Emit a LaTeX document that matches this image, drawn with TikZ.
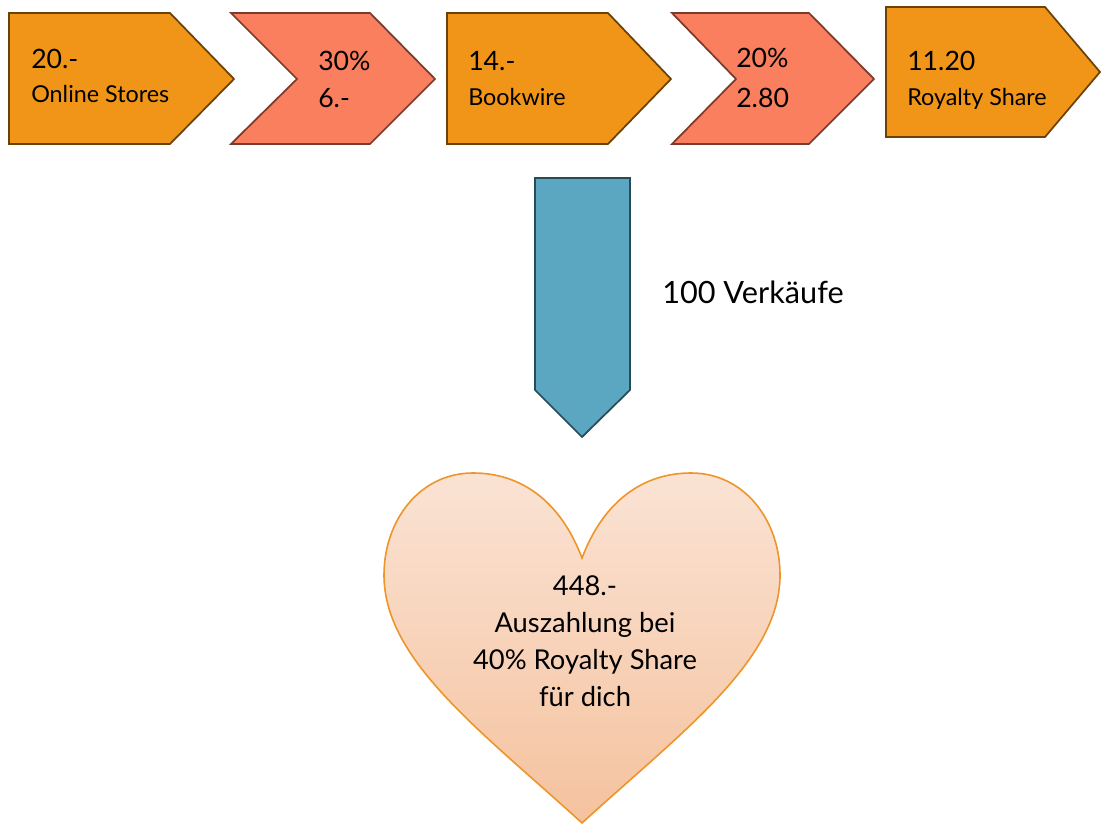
\documentclass[tikz,border=0pt]{standalone}
\usepackage{fontspec}
\setmainfont{Lato}
\definecolor{pentfill}{HTML}{F09517}
\definecolor{pentdraw}{HTML}{6B4205}
\definecolor{chevfill}{HTML}{FA7F5E}
\definecolor{chevdraw}{HTML}{7A3A2C}
\definecolor{arrfill}{HTML}{5BA6C0}
\definecolor{arrdraw}{HTML}{274B57}
\definecolor{heartdraw}{HTML}{EE952A}
\definecolor{hearttop}{HTML}{FAE3D4}
\definecolor{heartbot}{HTML}{F5C29E}
\tikzset{
  pent/.style={fill=pentfill, draw=pentdraw, line width=1.3pt, line join=miter},
  chev/.style={fill=chevfill, draw=chevdraw, line width=1.3pt, line join=miter},
  downarr/.style={fill=arrfill, draw=arrdraw, line width=1.3pt},
  heartshape/.style={draw=heartdraw, line width=1.2pt, top color=hearttop, bottom color=heartbot},
  bigtxt/.style={font=\fontsize{20}{24}\selectfont, anchor=base west, inner sep=0pt},
  smalltxt/.style={font=\fontsize{17.5}{21}\selectfont, anchor=base west, inner sep=0pt},
}
\begin{document}
\begin{tikzpicture}[x=0.75pt,y=-0.75pt]
\useasboundingbox (0,0) rectangle (1102,824);
% top row
\draw[pent] (9,13) -- (170,13) -- (234,79) -- (170,144) -- (9,144) -- cycle;
\draw[chev] (231,13) -- (370,13) -- (435,79) -- (370,144) -- (231,144) -- (297,79) -- cycle;
\draw[pent] (447,13) -- (608,13) -- (671,79) -- (608,144) -- (447,144) -- cycle;
\draw[chev] (672,13) -- (809,13) -- (874,79) -- (809,144) -- (672,144) -- (736,79) -- cycle;
\draw[pent] (886,7) -- (1045,7) -- (1100,72) -- (1045,137) -- (886,137) -- cycle;
% texts
\node[bigtxt] (p1a) at (31,69) {20.-};
\node[smalltxt] (p1b) at (31,103) {Online Stores};
\node[bigtxt] (c1a) at (318,70) {30\%};
\node[bigtxt] (c1b) at (318,107) {6.-};
\node[bigtxt] (p2a) at (468,70) {14.-};
\node[smalltxt] (p2b) at (468,105) {Bookwire};
\node[bigtxt] (c2a) at (736,68) {20\%};
\node[bigtxt] (c2b) at (736,107) {2.80};
\node[bigtxt] (p3a) at (907,70) {11.20};
\node[smalltxt] (p3b) at (907,105) {Royalty Share};
% down arrow
\draw[downarr] (535,178) -- (630,178) -- (630,390) -- (582,437) -- (535,390) -- cycle;
\node[font=\fontsize{23}{28}\selectfont, anchor=base west, inner sep=0pt] (sales) at (662,303) {100 Verkäufe};
% heart
\draw[heartshape] (582,558)
  .. controls (560,500) and (520,473) .. (473,473)
  .. controls (420,473) and (384,520) .. (384,575)
  .. controls (384,660) and (480,730) .. (582,823)
  .. controls (684,730) and (780,660) .. (780,575)
  .. controls (780,520) and (744,473) .. (691,473)
  .. controls (644,473) and (604,500) .. (582,558) -- cycle;
\node[font=\fontsize{20.5}{27.75}\selectfont, align=center, inner sep=0pt] (payout) at (585,641)
  {448.-\\Auszahlung bei\\40\% Royalty Share\\für dich};
\end{tikzpicture}
\end{document}
